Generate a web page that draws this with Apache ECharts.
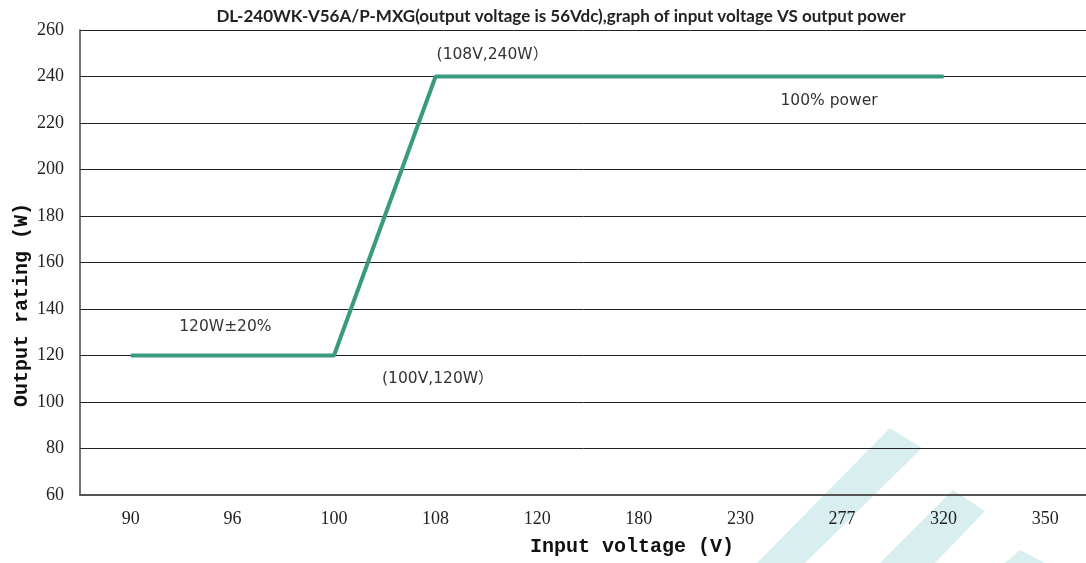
<!DOCTYPE html>
<html>
<head>
<meta charset="utf-8">
<title>input voltage VS output power</title>
<script src="https://cdn.jsdelivr.net/npm/echarts@6/dist/echarts.min.js"></script>
<style>
  html, body { margin: 0; padding: 0; background: #fff; }
  #main { width: 1086px; height: 563px; }
</style>
</head>
<body>
<div id="main"></div>
<script>
// input voltage categories (V) and output power (W)
var voltages = ['90', '96', '100', '108', '120', '180', '230', '277', '320', '350'];
var power = [120, 120, 120, 240, 240, 240, 240, 240, 240, null];
var yTicks = { min: 60, max: 260, step: 20 };

var titleText = 'DL-240WK-V56A/P-MXG(output voltage is 56Vdc),graph of input voltage VS output power';

var myChart = echarts.init(document.getElementById('main'));

var noteFont = {
    color: '#333',
    fontSize: 15.5,
    fontFamily: 'DejaVu Sans, Noto Sans CJK SC, sans-serif'
};

// watermark stripes, bottom right
function stripe(pts) {
    return {
        type: 'polygon',
        z: -10,
        silent: true,
        shape: { points: pts },
        style: { fill: '#d9efef' }
    };
}

var option = {
    animation: false,
    backgroundColor: '#fff',
    title: {
        text: titleText,
        left: 556,
        top: 3,
        textAlign: 'center',
        textStyle: {
            fontFamily: 'Lato, sans-serif',
            fontWeight: 'bold',
            fontSize: 17,
            color: '#222'
        }
    },
    // plot runs past the right edge of the picture
    grid: { left: 80, top: 30, width: 1016, height: 465, outerBoundsMode: 'none' },
    xAxis: {
        type: 'category',
        data: voltages,
        boundaryGap: true,
        axisLine: { lineStyle: { color: '#555', width: 2 } },
        axisTick: { show: false },
        axisLabel: {
            margin: 15,
            color: '#222',
            fontSize: 18,
            fontFamily: 'Liberation Serif, serif'
        },
        splitLine: { show: false }
    },
    yAxis: {
        type: 'value',
        min: yTicks.min,
        max: yTicks.max,
        interval: yTicks.step,
        axisLine: { show: true, lineStyle: { color: '#444', width: 1.5 } },
        axisTick: { show: false },
        axisLabel: {
            margin: 16,
            color: '#222',
            fontSize: 18,
            fontFamily: 'Liberation Serif, serif'
        },
        splitLine: { lineStyle: { color: '#222', width: 1 } }
    },
    graphic: [
        stripe([[890, 428], [922, 448], [805, 563], [757, 563]]),
        stripe([[953, 490], [985, 511], [935, 563], [880, 563]]),
        stripe([[1020, 550], [1045, 563], [1005, 563]]),
        {
            type: 'text',
            x: 632,
            y: 547,
            style: {
                text: 'Input voltage (V)',
                fill: '#111',
                font: 'bold 20px "Liberation Mono", monospace',
                align: 'center',
                verticalAlign: 'middle'
            }
        },
        {
            type: 'text',
            x: 22,
            y: 305,
            rotation: Math.PI / 2,
            style: {
                text: 'Output rating (W)',
                fill: '#111',
                font: 'bold 20px "Liberation Mono", monospace',
                align: 'center',
                verticalAlign: 'middle'
            }
        }
    ],
    series: [
        {
            type: 'line',
            data: power,
            symbol: 'none',
            connectNulls: false,
            lineStyle: { color: '#3a9a80', width: 4 },
            markPoint: {
                symbolSize: 0,
                silent: true,
                data: [
                    {
                        coord: ['108', 240],
                        label: Object.assign({
                            show: true, formatter: '(108V,240W）', position: 'inside',
                            align: 'left', verticalAlign: 'middle', offset: [1, -22]
                        }, noteFont)
                    },
                    {
                        coord: ['277', 240],
                        label: Object.assign({
                            show: true, formatter: '100% power', position: 'inside',
                            align: 'center', verticalAlign: 'middle', offset: [-13, 24]
                        }, noteFont)
                    },
                    {
                        coord: ['96', 120],
                        label: Object.assign({
                            show: true, formatter: '120W±20%', position: 'inside',
                            align: 'center', verticalAlign: 'middle', offset: [-7, -29]
                        }, noteFont)
                    },
                    {
                        coord: ['100', 120],
                        label: Object.assign({
                            show: true, formatter: '(100V,120W）', position: 'inside',
                            align: 'left', verticalAlign: 'middle', offset: [48, 23]
                        }, noteFont)
                    }
                ]
            }
        }
    ]
};

myChart.setOption(option);
</script>
</body>
</html>
